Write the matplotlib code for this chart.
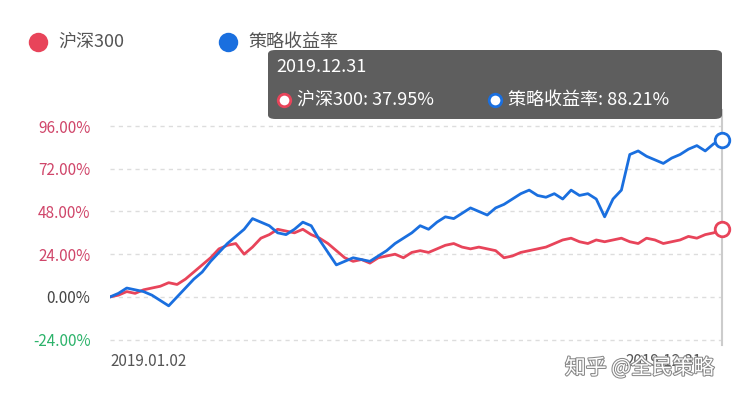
import matplotlib
matplotlib.use("Agg")
import matplotlib.pyplot as plt
import matplotlib.patheffects as pe
from matplotlib.patches import FancyBboxPatch
from matplotlib.lines import Line2D

plt.rcParams['font.family'] = ['Noto Sans CJK SC', 'DejaVu Sans']

hs300 = [0, 1, 3, 2, 4, 5, 6, 8, 7, 10, 14, 18, 22, 27, 29, 30, 24, 28, 33, 35, 38, 37, 36, 38, 35, 33, 30, 26, 22, 20, 21, 19, 22, 23, 24, 22, 25, 26, 25, 27, 29, 30, 28, 27, 28, 27, 26, 22, 23, 25, 26, 27, 28, 30, 32, 33, 31, 30, 32, 31, 32, 33, 31, 30, 33, 32, 30, 31, 32, 34, 33, 35, 36, 37.95]
strat = [0, 2, 5, 4, 3, 1, -2, -5, 0, 5, 10, 14, 20, 25, 30, 34, 38, 44, 42, 40, 36, 35, 38, 42, 40, 32, 25, 18, 20, 22, 21, 20, 23, 26, 30, 33, 36, 40, 38, 42, 45, 44, 47, 50, 48, 46, 50, 52, 55, 58, 60, 57, 56, 58, 55, 60, 57, 58, 55, 45, 55, 60, 80, 82, 79, 77, 75, 78, 80, 83, 85, 82, 86, 88.21]
start_label = "2019.01.02"
end_label = "2019.12.31"
yticks = [-24, 0, 24, 48, 72, 96]

RED = "#e8445a"
BLUE = "#1a6fdf"

fig = plt.figure(figsize=(7.49, 4.01), dpi=100)
ax = fig.add_axes([110/749, 1-345/401, 612/749, 235/401])
n = len(strat)
x = list(range(n))
ax.plot(x, hs300, color=RED, lw=2)
ax.plot(x, strat, color=BLUE, lw=2)
ax.set_xlim(0, n-1)
ax.set_ylim(-27, 105)
for s in ax.spines.values():
    s.set_visible(False)
ax.set_yticks(yticks)
ax.set_yticklabels([f"{v:.2f}%" for v in yticks], fontsize=11)
for lab, v in zip(ax.get_yticklabels(), yticks):
    lab.set_color("#d0466a" if v > 0 else ("#2db36b" if v < 0 else "#444444"))
ax.tick_params(axis='y', length=0, pad=14)
ax.set_xticks([])
for v in yticks:
    ax.axhline(v, color="#dddddd", lw=1, ls=(0, (3, 3)), zorder=0)
ax.axvline(n-1, color="#cccccc", lw=1.5, zorder=0, clip_on=False)
ax.scatter([n-1], [hs300[-1]], s=110, facecolor="white", edgecolor=RED, lw=2, zorder=5, clip_on=False)
ax.scatter([n-1], [strat[-1]], s=110, facecolor="white", edgecolor=BLUE, lw=2, zorder=5, clip_on=False)

fig.text(110/749, 1-362/401, start_label, fontsize=11, color="#555555", va="center")
fig.text(625/749, 1-362/401, end_label, fontsize=11, color="#555555", va="center")
fig.text(565/749, 1-368/401, "知乎 @全民策略", fontsize=15, color="#ffffff", va="center",
         path_effects=[pe.withStroke(linewidth=1.5, foreground="#888888")])

def dot(px, py, color, size, fill=None, ew=0):
    fig.add_artist(Line2D([px/749], [1-py/401], transform=fig.transFigure, marker='o', ms=size,
                          mfc=fill or color, mec=color, mew=ew, ls='none'))

# legend
dot(38, 42, RED, 14)
fig.text(58/749, 1-42/401, "沪深300", fontsize=13, color="#555555", va="center")
dot(228, 42, BLUE, 14)
fig.text(248/749, 1-42/401, "策略收益率", fontsize=13, color="#555555", va="center")

# tooltip
box = FancyBboxPatch((268/749, 1-119/401), (722-268)/749, (119-50)/401, boxstyle="round,pad=0,rounding_size=0.01",
                     transform=fig.transFigure, facecolor="#555555", edgecolor="none", alpha=0.95)
fig.patches.append(box)
fig.text(276/749, 1-67/401, end_label, fontsize=13, color="white", va="center")
dot(284, 100, RED, 9, "white", 2)
fig.text(297/749, 1-100/401, f"沪深300: {hs300[-1]:.2f}%", fontsize=13, color="white", va="center")
dot(495, 100, BLUE, 9, "white", 2)
fig.text(508/749, 1-100/401, f"策略收益率: {strat[-1]:.2f}%", fontsize=13, color="white", va="center")

fig.savefig("out.png", dpi=100)
